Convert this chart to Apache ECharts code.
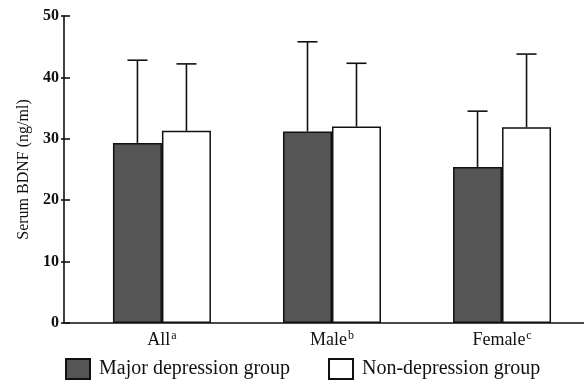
<!DOCTYPE html>
<html><head><meta charset="utf-8">
<script src="https://cdn.jsdelivr.net/npm/echarts@6/dist/echarts.min.js"></script>
<style>html,body{margin:0;padding:0;background:#fff}#c{width:584px;height:384px}</style>
</head><body><div id="c"></div>
<script>
const categories = ['All', 'Male', 'Female'];
const superscripts = ['a', 'b', 'c'];
const seriesNames = ['Major depression group', 'Non-depression group'];
const majorMean = [29.3, 31.2, 25.4];
const majorErrTop = [42.8, 45.8, 34.5];
const nonMean = [31.3, 32.0, 31.9];
const nonErrTop = [42.2, 42.3, 43.8];
const yTicks = [0, 10, 20, 30, 40, 50];

const FONT = 'Liberation Serif';
const BAR_W = 49;
const chart = echarts.init(document.getElementById('c'));

function errSeries(means, tops, offset) {
  return {
    type: 'custom',
    silent: true,
    z: 5,
    data: means.map((m, i) => [i, m, tops[i]]),
    renderItem: function (params, api) {
      const base = api.coord([api.value(0), api.value(1)]);
      const top = api.coord([api.value(0), api.value(2)]);
      const x = base[0] + offset;
      return {
        type: 'group',
        children: [
          { type: 'line', shape: { x1: x, y1: base[1], x2: x, y2: top[1] }, style: { stroke: '#111', lineWidth: 1.6 } },
          { type: 'line', shape: { x1: x - 10, y1: top[1], x2: x + 10, y2: top[1] }, style: { stroke: '#111', lineWidth: 1.6 } }
        ]
      };
    }
  };
}

const legendText = { fontFamily: FONT, fontSize: 20, color: '#111', padding: [0, 0, 0, 4] };

chart.setOption({
  animation: false,
  grid: { left: 64, right: 0, top: 16, bottom: 61 },
  legend: [
    { left: 65, top: 358, padding: 0, icon: 'rect', itemWidth: 24, itemHeight: 20, itemGap: 0,
      data: [seriesNames[0]], textStyle: legendText },
    { left: 328, top: 358, padding: 0, icon: 'rect', itemWidth: 24, itemHeight: 20, itemGap: 0,
      data: [seriesNames[1]], textStyle: legendText }
  ],
  xAxis: {
    type: 'value', min: -0.576, max: 2.482,
    splitLine: { show: false },
    axisTick: { show: false },
    axisLine: { onZero: false, lineStyle: { color: '#111', width: 1.6 } },
    axisLabel: {
      customValues: [0, 1, 2],
      margin: 7,
      formatter: function (v) {
        const i = Math.round(v);
        return '{n|' + categories[i] + '}{s|' + superscripts[i] + '}';
      },
      rich: {
        n: { fontFamily: FONT, fontSize: 18, color: '#111' },
        s: { fontFamily: FONT, fontSize: 12, color: '#111', verticalAlign: 'top', padding: [0, 0, 9, 1] }
      }
    }
  },
  yAxis: [{
    type: 'value', min: 0, max: 50, interval: 10,
    name: 'Serum BDNF (ng/ml)', nameLocation: 'middle', nameGap: 32, nameRotate: 90,
    nameTextStyle: { fontFamily: FONT, fontSize: 16, color: '#111' },
    splitLine: { show: false },
    axisLine: { onZero: false, lineStyle: { color: '#111', width: 1.6 } },
    axisTick: { length: 3, lineStyle: { color: '#111', width: 1.6 } },
    axisLabel: {
      margin: 5, fontFamily: FONT, fontSize: 16, fontWeight: 'bold', color: '#111',
      customValues: yTicks
    }
  }, {
    type: 'value', min: 0, max: 50, interval: 10, position: 'left',
    splitLine: { show: false },
    axisLine: { show: false, onZero: false },
    axisTick: { inside: true, length: 6, lineStyle: { color: '#111', width: 1.6 } },
    axisLabel: { show: false }
  }],
  series: [
    { name: seriesNames[0], type: 'bar', barWidth: BAR_W, barGap: '0%',
      data: majorMean.map((v, i) => [i, v]),
      itemStyle: { color: '#555555', borderColor: '#111', borderWidth: 1.5 } },
    { name: seriesNames[1], type: 'bar', barWidth: BAR_W, barGap: '0%',
      data: nonMean.map((v, i) => [i, v]),
      itemStyle: { color: '#ffffff', borderColor: '#111', borderWidth: 1.5 } },
    errSeries(majorMean, majorErrTop, -BAR_W / 2),
    errSeries(nonMean, nonErrTop, BAR_W / 2)
  ]
});
</script></body></html>
